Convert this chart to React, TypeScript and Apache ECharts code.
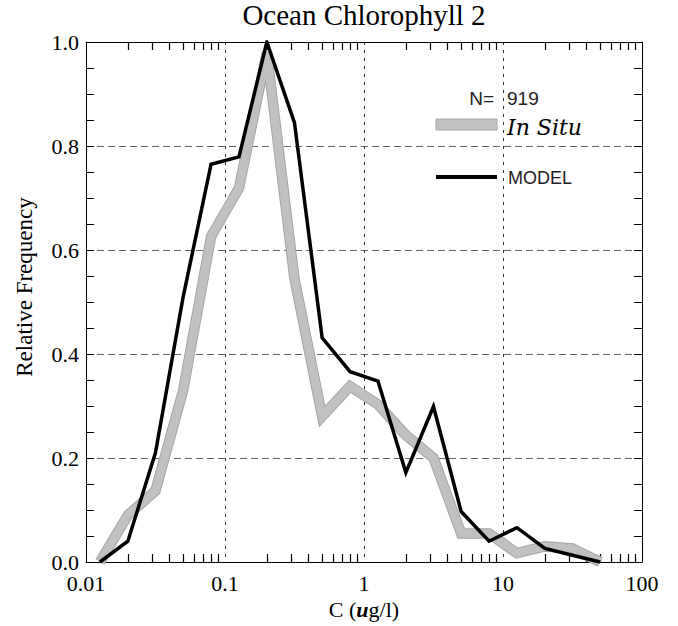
import React, { useEffect, useRef } from "react";
import * as echarts from "echarts";

const titleText = "Ocean Chlorophyll 2";
const yAxisTitle = "Relative Frequency";
const xBins = [0.0126, 0.02, 0.0316, 0.05, 0.0794, 0.126, 0.2, 0.316, 0.5, 0.794, 1.26, 2, 3.16, 5, 7.94, 12.6, 20, 31.6, 50];
const inSitu = [0.0, 0.09, 0.137, 0.33, 0.626, 0.719, 0.98, 0.545, 0.28, 0.338, 0.303, 0.244, 0.2, 0.055, 0.055, 0.017, 0.03, 0.026, 0.0];
const model = [0.0, 0.04, 0.21, 0.51, 0.765, 0.779, 1.0, 0.845, 0.431, 0.366, 0.348, 0.172, 0.299, 0.097, 0.04, 0.066, 0.026, 0.013, 0.0];
const xTickLabels = ["0.01", "0.1", "1", "10", "100"];
const yTickLabels = ["0.0", "0.2", "0.4", "0.6", "0.8", "1.0"];
const xMinorTicks = [
  0.02, 0.03, 0.04, 0.05, 0.06, 0.07, 0.08, 0.09,
  0.2, 0.3, 0.4, 0.5, 0.6, 0.7, 0.8, 0.9,
  2, 3, 4, 5, 6, 7, 8, 9,
  20, 30, 40, 50, 60, 70, 80, 90,
];
const nCount = "919";

const SERIF = "'Liberation Serif', 'Times New Roman', serif";
const SANS = "'Liberation Sans', 'DejaVu Sans', sans-serif";

export default function App() {
  const ref = useRef<HTMLDivElement>(null);
  useEffect(() => {
    const chart = echarts.init(ref.current!, null, { renderer: "svg" });
    const pairs = (ys: number[]) => xBins.map((x, i) => [x, ys[i]]);
    const xFmt = (v: number) => {
      const idx = Math.round(Math.log10(v)) + 2;
      return xTickLabels[idx] ?? "";
    };
    const yFmt = (v: number) => {
      const idx = Math.round(v / 0.2);
      return yTickLabels[idx] ?? "";
    };
    const logBase = { type: "log", logBase: 10, min: 0.01, max: 100 };
    chart.setOption({
      animation: false,
      backgroundColor: "#ffffff",
      grid: { left: 86, right: 36, top: 42, bottom: 64, containLabel: false },
      xAxis: [
        {
          ...logBase,
          position: "bottom",
          axisLine: { show: true, onZero: false, lineStyle: { color: "#000", width: 1 } },
          axisTick: { show: true, inside: true, length: 8, customValues: xMinorTicks, lineStyle: { color: "#000", width: 1.2 } },
          axisLabel: { show: true, formatter: xFmt, fontFamily: SERIF, fontSize: 22, color: "#000", margin: 10 },
          splitLine: { show: false },
          name: "C ({b|u}g/l)",
          nameLocation: "middle",
          nameGap: 34,
          nameTextStyle: {
            fontFamily: SERIF,
            fontSize: 22,
            color: "#000",
            rich: { b: { fontFamily: SERIF, fontSize: 22, fontWeight: "bold", fontStyle: "italic", color: "#000" } },
          },
        },
        {
          ...logBase,
          position: "top",
          axisLine: { show: true, onZero: false, lineStyle: { color: "#000", width: 1 } },
          axisTick: { show: true, inside: true, length: 8, customValues: xMinorTicks, lineStyle: { color: "#000", width: 1.2 } },
          axisLabel: { show: false },
          splitLine: { show: false },
        },
        {
          ...logBase,
          position: "bottom",
          axisLine: { show: false },
          axisTick: { show: false },
          axisLabel: { show: false },
          splitLine: { show: true, lineStyle: { color: "#333", type: [3, 5], width: 1 } },
        },
      ],
      yAxis: [
        {
          type: "value",
          min: 0,
          max: 1,
          interval: 0.2,
          position: "left",
          axisLine: { show: true, onZero: false, lineStyle: { color: "#000", width: 1 } },
          axisTick: { show: true, inside: true, length: 8, lineStyle: { color: "#000" } },
          minorTick: { show: true, splitNumber: 4, length: 8, lineStyle: { color: "#000" } },
          axisLabel: { formatter: yFmt, fontFamily: SERIF, fontSize: 22, color: "#000", margin: 7 },
          splitLine: { show: true, lineStyle: { color: "#666", type: [7, 4], width: 1 } },
        },
        {
          type: "value",
          min: 0,
          max: 1,
          interval: 0.2,
          position: "right",
          axisLine: { show: true, onZero: false, lineStyle: { color: "#000", width: 1 } },
          axisTick: { show: true, inside: true, length: 8, lineStyle: { color: "#000" } },
          minorTick: { show: true, splitNumber: 4, length: 8, lineStyle: { color: "#000" } },
          axisLabel: { show: false },
          splitLine: { show: false },
        },
      ],
      series: [
        {
          type: "line",
          name: "In Situ border",
          xAxisIndex: 0,
          yAxisIndex: 0,
          data: pairs(inSitu),
          symbol: "none",
          clip: true,
          lineStyle: { color: "#a6a6a6", width: 10.5, join: "miter", cap: "butt" },
          z: 3,
        },
        {
          type: "line",
          name: "In Situ",
          xAxisIndex: 0,
          yAxisIndex: 0,
          data: pairs(inSitu),
          symbol: "none",
          clip: true,
          lineStyle: { color: "#c0c0c0", width: 8.5, join: "miter", cap: "butt" },
          z: 4,
        },
        {
          type: "line",
          name: "MODEL",
          xAxisIndex: 0,
          yAxisIndex: 0,
          data: pairs(model),
          symbol: "none",
          clip: true,
          lineStyle: { color: "#000", width: 3.5, join: "miter" },
          z: 5,
        },
      ],
      graphic: [
        {
          type: "text",
          x: 364,
          y: 0,
          style: { text: titleText, fontFamily: SERIF, fontSize: 29, fill: "#000", textAlign: "center", textVerticalAlign: "top" },
        },
        {
          type: "text",
          x: 24,
          y: 287,
          rotation: Math.PI / 2,
          style: { text: yAxisTitle, fontFamily: SERIF, fontSize: 23, fill: "#000", textAlign: "center", textVerticalAlign: "middle" },
        },
        {
          type: "text",
          x: 494,
          y: 98,
          style: { text: "N=", fontFamily: SANS, fontSize: 19, fill: "#222", textAlign: "right", textVerticalAlign: "middle" },
        },
        {
          type: "text",
          x: 507,
          y: 98,
          style: { text: nCount, fontFamily: SANS, fontSize: 19, fill: "#222", textAlign: "left", textVerticalAlign: "middle" },
        },
        {
          type: "rect",
          shape: { x: 436, y: 119, width: 61, height: 11 },
          style: { fill: "#c0c0c0", stroke: "#a6a6a6", lineWidth: 1 },
        },
        {
          type: "text",
          x: 507,
          y: 127,
          style: { text: "In Situ", fontFamily: "'DejaVu Serif', serif", fontStyle: "italic", fontSize: 22, fill: "#000", textAlign: "left", textVerticalAlign: "middle" },
        },
        {
          type: "line",
          shape: { x1: 436, y1: 177, x2: 497, y2: 177 },
          style: { stroke: "#000", lineWidth: 4 },
        },
        {
          type: "text",
          x: 508,
          y: 178,
          style: { text: "MODEL", fontFamily: SANS, fontSize: 18, fill: "#222", textAlign: "left", textVerticalAlign: "middle" },
        },
      ],
    });
    return () => chart.dispose();
  }, []);
  return <div ref={ref} style={{ position: "absolute", left: 0, top: 0, width: 678, height: 626 }} />;
}
